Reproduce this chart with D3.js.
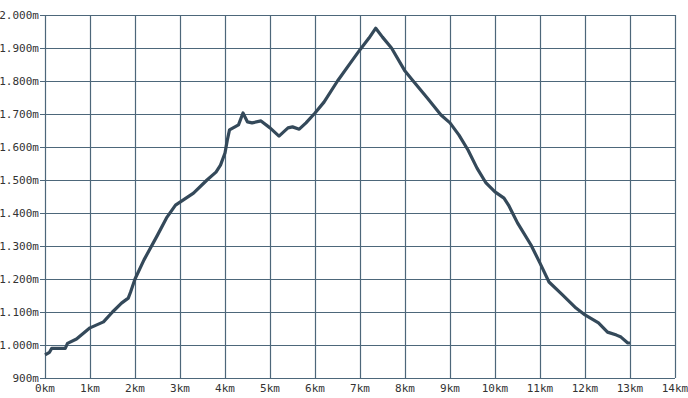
<!DOCTYPE html>
<html>
<head>
<meta charset="utf-8">
<script src="https://cdn.jsdelivr.net/npm/d3@7"></script>
<style>
  body { margin: 0; background: #fff; }
</style>
</head>
<body>
<div class="chart"></div>
<script>
// elevation profile: distance (km) and altitude (m)
const distKm = [0, 0.1, 0.15, 0.3, 0.45, 0.5, 0.7, 1.0, 1.3, 1.5, 1.7, 1.85, 1.9, 2.0, 2.2, 2.5, 2.7, 2.9, 3.0, 3.3, 3.6, 3.8, 3.9, 4.0, 4.05, 4.1, 4.3, 4.4, 4.5, 4.6, 4.8, 5.0, 5.2, 5.4, 5.5, 5.65, 5.8, 6.0, 6.2, 6.5, 6.8, 7.0, 7.2, 7.35, 7.5, 7.7, 8.0, 8.2, 8.5, 8.8, 9.0, 9.2, 9.4, 9.6, 9.8, 10.0, 10.2, 10.3, 10.5, 10.8, 11.0, 11.2, 11.5, 11.8, 12.0, 12.3, 12.5, 12.7, 12.8, 12.95, 13.0];
const altM = [970, 978, 990, 990, 990, 1005, 1018, 1052, 1070, 1100, 1127, 1142, 1160, 1200, 1258, 1333, 1385, 1424, 1433, 1460, 1500, 1524, 1545, 1582, 1620, 1652, 1667, 1703, 1676, 1673, 1679, 1658, 1633, 1658, 1661, 1654, 1673, 1703, 1736, 1800, 1857, 1895, 1930, 1960, 1933, 1900, 1830, 1797, 1748, 1697, 1673, 1636, 1591, 1536, 1491, 1464, 1445, 1424, 1370, 1303, 1248, 1191, 1152, 1112, 1091, 1067, 1039, 1030, 1024, 1006, 1006];

const xTicks = d3.range(0, 15);
const yTicks = d3.range(900, 2001, 100);
const fmtAlt = v => v >= 1000 ? d3.format(",")(v).replace(",", ".") + "m" : v + "m";

const W = 688, H = 398;
const margin = { top: 15, right: 13, bottom: 20, left: 45 };

const svg = d3.select(".chart").append("svg")
  .attr("width", W)
  .attr("height", H);

const x = d3.scaleLinear().domain([0, 14]).range([margin.left, W - margin.right]);
const y = d3.scaleLinear().domain([900, 2000]).range([H - margin.bottom, margin.top]);

const gridColor = "#4d677a";

// vertical grid
svg.append("g").selectAll("line")
  .data(xTicks)
  .join("line")
  .attr("x1", d => Math.round(x(d)) + 0.5)
  .attr("x2", d => Math.round(x(d)) + 0.5)
  .attr("y1", y(2000))
  .attr("y2", y(900))
  .attr("stroke", gridColor)
  .attr("stroke-width", 1.2);

// horizontal grid plus tick on the left
svg.append("g").selectAll("line")
  .data(yTicks)
  .join("line")
  .attr("x1", x(0) - 5)
  .attr("x2", x(14))
  .attr("y1", d => Math.round(y(d)) + 0.5)
  .attr("y2", d => Math.round(y(d)) + 0.5)
  .attr("stroke", gridColor)
  .attr("stroke-width", 1.2);

// y labels
svg.append("g").selectAll("text")
  .data(yTicks)
  .join("text")
  .attr("x", x(0) - 6)
  .attr("y", d => y(d))
  .attr("dy", "0.35em")
  .attr("text-anchor", "end")
  .style("font-family", "'DejaVu Sans Mono', monospace")
  .style("font-size", "11px")
  .style("fill", "#333")
  .text(fmtAlt);

// x labels
svg.append("g").selectAll("text")
  .data(xTicks)
  .join("text")
  .attr("x", d => x(d))
  .attr("y", y(900) + 10)
  .attr("dy", "0.35em")
  .attr("text-anchor", "middle")
  .style("font-family", "'DejaVu Sans Mono', monospace")
  .style("font-size", "11px")
  .style("fill", "#333")
  .text(d => d + "km");

// profile line
const pts = distKm.map((d, i) => [d, altM[i]]);
svg.append("path")
  .datum(pts)
  .attr("fill", "none")
  .attr("stroke", "#34495a")
  .attr("stroke-width", 3.2)
  .attr("stroke-linejoin", "round")
  .attr("d", d3.line().x(d => x(d[0])).y(d => y(d[1])));
</script>
</body>
</html>
